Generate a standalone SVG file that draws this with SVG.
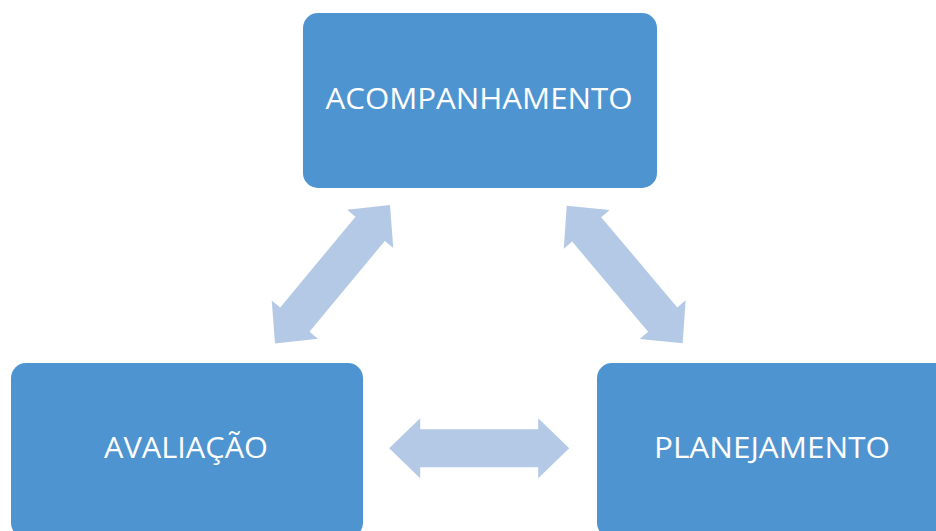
<svg xmlns="http://www.w3.org/2000/svg" xmlns:xlink="http://www.w3.org/1999/xlink" width="936" height="531" viewBox="0 0 936 531">
<style>
.box{fill:#4E94D0;}
.lbl{fill:#FFFFFF;font-family:"Open Sans","Liberation Sans",sans-serif;font-size:30px;text-anchor:middle;}
.arr{fill:#B3C9E5;}
</style>
<defs>
<path id="dbl" d="M-90,0 L-59,-30 L-59,-19 L59,-19 L59,-30 L90,0 L59,30 L59,19 L-59,19 L-59,30 Z"/>
</defs>
<rect width="936" height="531" fill="#FFFFFF"/>
<g id="connectors" class="arr">
<use xlink:href="#dbl" transform="translate(332.5,274.2) rotate(-50.3)"/>
<use xlink:href="#dbl" transform="translate(624.7,274.5) rotate(49.9)"/>
<use xlink:href="#dbl" transform="translate(479.2,448.3)"/>
</g>
<g id="acompanhamento">
<rect class="box" x="303" y="13" width="354" height="175" rx="15" ry="15"/>
<text class="lbl" x="479" y="109" textLength="307" lengthAdjust="spacingAndGlyphs">ACOMPANHAMENTO</text>
</g>
<g id="avaliacao">
<rect class="box" x="11" y="363" width="352" height="175" rx="15" ry="15"/>
<text class="lbl" x="186" y="458" textLength="164" lengthAdjust="spacingAndGlyphs">AVALIAÇÃO</text>
</g>
<g id="planejamento">
<rect class="box" x="597" y="363" width="352" height="175" rx="15" ry="15"/>
<text class="lbl" x="772" y="458" textLength="236" lengthAdjust="spacingAndGlyphs">PLANEJAMENTO</text>
</g>
</svg>
